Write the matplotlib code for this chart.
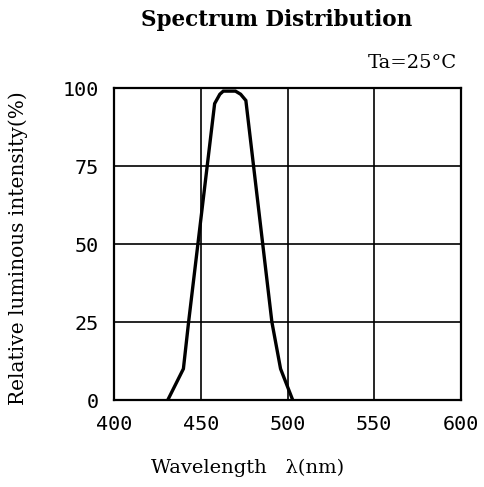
import matplotlib
matplotlib.use('Agg')
import matplotlib.pyplot as plt

# spectrum
wavelength = [431, 440, 443, 458, 461, 463, 470, 473, 476, 491, 496, 503]
intensity = [0, 10, 25, 95, 98, 99, 99, 98, 96, 25, 10, 0]
xticks = [400, 450, 500, 550, 600]
yticks = [0, 25, 50, 75, 100]

fig = plt.figure(figsize=(4.84, 4.87), dpi=100)
ax = fig.add_axes([114 / 484, 1 - 400 / 487, 347 / 484, 312 / 487])

ax.plot(wavelength, intensity, color='black', linewidth=2.4, solid_joinstyle='miter')

ax.set_xlim(400, 600)
ax.set_ylim(0, 100)
ax.set_xticks(xticks)
ax.set_yticks(yticks)
ax.set_xticklabels([str(t) for t in xticks], family='DejaVu Sans Mono', fontsize=14.5)
ax.set_yticklabels([str(t) for t in yticks], family='DejaVu Sans Mono', fontsize=14.5)
ax.tick_params(length=0, pad=11)
ax.grid(True, color='black', linewidth=1.2)
for s in ax.spines.values():
    s.set_linewidth(1.6)

serif = ['DejaVu Serif']
fig.text(277 / 484, 1 - 20 / 487, 'Spectrum Distribution', ha='center', va='center',
         family=serif, fontsize=15.5, fontweight='bold')
fig.text(457 / 484, 1 - 63 / 487, 'Ta=25°C', ha='right', va='center',
         family=serif, fontsize=14)
fig.text(248 / 484, 1 - 468 / 487, 'Wavelength   λ(nm)', ha='center', va='center',
         family=serif, fontsize=14)
fig.text(18 / 484, 1 - 248 / 487, 'Relative luminous intensity(%)', ha='center', va='center',
         rotation=90, family=serif, fontsize=14.5)

fig.savefig('out.png', dpi=100)
